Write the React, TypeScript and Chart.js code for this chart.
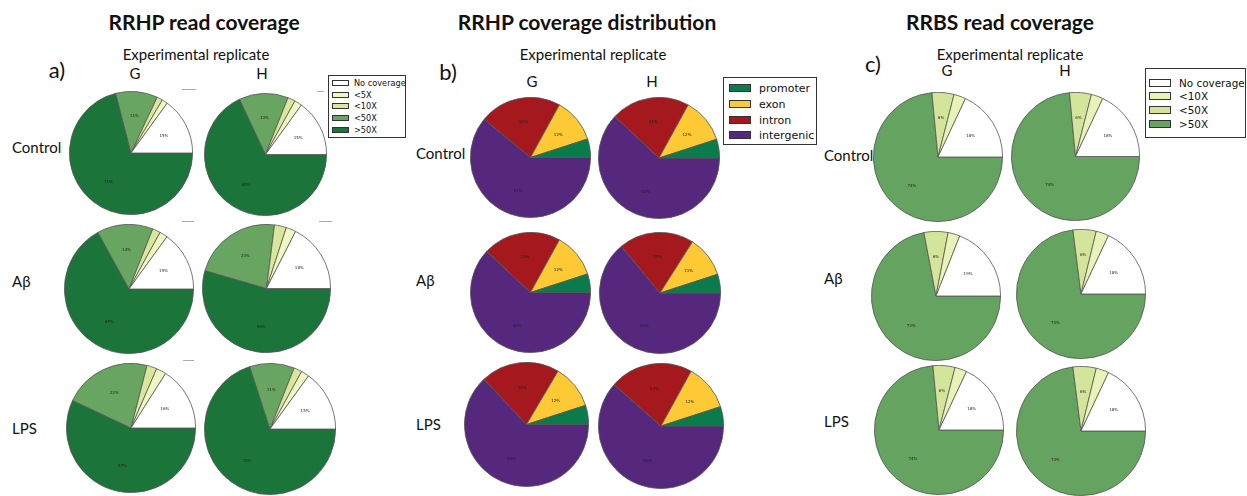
import React, { useEffect, useRef } from "react";
import { Chart, registerables } from "chart.js";

Chart.register(...registerables);

// ---------- categories ----------
const rrhpCoverageCats = ["No coverage", "<5X", "<10X", "<50X", ">50X"];
const distributionCats = ["promoter", "exon", "intron", "intergenic"];
const rrbsCoverageCats = ["No coverage", "<10X", "<50X", ">50X"];

const replicates = ["G", "H"];
const conditions = ["Control", "Aβ", "LPS"];

// ---------- values (percent) ----------
// a) RRHP read coverage: No coverage, <5X, <10X, <50X, >50X
const rrhpControlG = [15, 1.5, 1.5, 11, 71];
const rrhpControlH = [15, 2, 2, 13, 68];
const rrhpAbetaG = [15, 2, 2, 14, 67];
const rrhpAbetaH = [17.5, 2.5, 3, 22.5, 54.5];
const rrhpLpsG = [16, 2.5, 2.5, 22, 57];
const rrhpLpsH = [15, 2, 2, 11, 70];

// b) RRHP coverage distribution: promoter, exon, intron, intergenic
const distControlG = [5, 12, 22, 61];
const distControlH = [5, 12, 21, 62];
const distAbetaG = [5, 12, 21, 62];
const distAbetaH = [5, 11, 20, 64];
const distLpsG = [5, 11.5, 20.5, 63];
const distLpsH = [5, 12, 21.5, 61.5];

// c) RRBS read coverage: No coverage, <10X, <50X, >50X
const rrbsControlG = [18, 3, 5.5, 73.5];
const rrbsControlH = [18, 3, 5.5, 73.5];
const rrbsAbetaG = [19, 3, 6, 72];
const rrbsAbetaH = [18, 3.2, 5.8, 73];
const rrbsLpsG = [18, 3, 5.5, 73.5];
const rrbsLpsH = [18, 3.2, 5.8, 73];

// ---------- colours ----------
const rrhpColors = ["#ffffff", "#f1f7c3", "#d8e79c", "#67a561", "#1b743a"];
const distColors = ["#0b7b4b", "#fdca35", "#a5181d", "#55287e"];
const rrbsColors = ["#ffffff", "#e9f3b8", "#d4e49a", "#65a360"];

// ---------- layout (centre x, centre y, radius) ----------
type PieSpec = { values: number[]; colors: string[]; cx: number; cy: number; r: number };

const pies: PieSpec[] = [
  { values: rrhpControlG, colors: rrhpColors, cx: 131, cy: 153, r: 61 },
  { values: rrhpControlH, colors: rrhpColors, cx: 265.5, cy: 154.5, r: 60.5 },
  { values: rrhpAbetaG, colors: rrhpColors, cx: 129, cy: 288.5, r: 64 },
  { values: rrhpAbetaH, colors: rrhpColors, cx: 266.5, cy: 288.5, r: 63.5 },
  { values: rrhpLpsG, colors: rrhpColors, cx: 131, cy: 427.5, r: 64 },
  { values: rrhpLpsH, colors: rrhpColors, cx: 270, cy: 428.5, r: 65 },

  { values: distControlG, colors: distColors, cx: 530, cy: 157.5, r: 59.5 },
  { values: distControlH, colors: distColors, cx: 658.5, cy: 157.5, r: 60 },
  { values: distAbetaG, colors: distColors, cx: 530.5, cy: 292, r: 59.5 },
  { values: distAbetaH, colors: distColors, cx: 660, cy: 293, r: 60 },
  { values: distLpsG, colors: distColors, cx: 526, cy: 424.5, r: 61.5 },
  { values: distLpsH, colors: distColors, cx: 660.5, cy: 425.5, r: 62 },

  { values: rrbsControlG, colors: rrbsColors, cx: 937.5, cy: 156.5, r: 64 },
  { values: rrbsControlH, colors: rrbsColors, cx: 1075, cy: 156.5, r: 63.5 },
  { values: rrbsAbetaG, colors: rrbsColors, cx: 935.5, cy: 295.5, r: 64 },
  { values: rrbsAbetaH, colors: rrbsColors, cx: 1080.5, cy: 293.5, r: 64 },
  { values: rrbsLpsG, colors: rrbsColors, cx: 939, cy: 430, r: 64 },
  { values: rrbsLpsH, colors: rrbsColors, cx: 1081, cy: 430.5, r: 64 },
];

const pctPlugin = {
  id: "pctLabels",
  afterDatasetsDraw(chart: any) {
    const ctx = chart.ctx;
    const meta = chart.getDatasetMeta(0);
    const data = chart.data.datasets[0].data as number[];
    const total = data.reduce((a: number, b: number) => a + b, 0);
    ctx.save();
    ctx.font = '4px "DejaVu Sans"';
    ctx.fillStyle = "#222";
    ctx.textAlign = "center";
    ctx.textBaseline = "middle";
    meta.data.forEach((arc: any, i: number) => {
      const pct = (data[i] / total) * 100;
      if (pct < 5.5) return;
      const p = arc.getProps(["x", "y", "startAngle", "endAngle", "outerRadius"], true);
      const mid = (p.startAngle + p.endAngle) / 2;
      ctx.fillText(
        Math.round(pct) + "%",
        p.x + Math.cos(mid) * p.outerRadius * 0.6,
        p.y + Math.sin(mid) * p.outerRadius * 0.6
      );
    });
    ctx.restore();
  },
};

function Pie({ spec }: { spec: PieSpec }) {
  const ref = useRef<HTMLCanvasElement>(null);
  const size = Math.round(spec.r * 2 + 2);
  useEffect(() => {
    if (!ref.current) return;
    // matplotlib draws counter-clockwise from 3 o'clock; Chart.js draws clockwise,
    // so reverse the order and start at 3 o'clock.
    const vals = [...spec.values].reverse();
    const cols = [...spec.colors].reverse();
    const chart = new Chart(ref.current, {
      type: "pie",
      data: {
        labels: vals.map((_, i) => String(i)),
        datasets: [
          {
            data: vals,
            backgroundColor: cols,
            borderColor: "#555555",
            borderWidth: 0.8,
          },
        ],
      },
      options: {
        responsive: false,
        animation: false,
        rotation: 90,
        layout: { padding: 0 },
        plugins: { legend: { display: false }, tooltip: { enabled: false } },
        events: [],
      },
      plugins: [pctPlugin],
    });
    return () => chart.destroy();
  }, []);
  return (
    <canvas
      ref={ref}
      width={size}
      height={size}
      style={{
        position: "absolute",
        left: Math.round(spec.cx - size / 2),
        top: Math.round(spec.cy - size / 2),
        width: size,
        height: size,
      }}
    />
  );
}

const calibri = 'Lato, "Open Sans", sans-serif';

function Txt({
  x,
  y,
  text,
  size,
  bold,
  align = "center",
}: {
  x: number;
  y: number;
  text: string;
  size: number;
  bold?: boolean;
  align?: "center" | "left";
}) {
  return (
    <div
      style={{
        position: "absolute",
        left: x,
        top: y,
        transform: align === "center" ? "translate(-50%, -50%)" : "translate(0, -50%)",
        fontFamily: calibri,
        fontSize: size,
        fontWeight: bold ? 700 : 400,
        whiteSpace: "nowrap",
        color: "#111",
        lineHeight: 1,
      }}
    >
      {text}
    </div>
  );
}

function Legend({
  x,
  y,
  w,
  h,
  cats,
  colors,
  rowY,
  patchX,
  patchW,
  patchH,
  textX,
  fontSize,
}: {
  x: number;
  y: number;
  w: number;
  h: number;
  cats: string[];
  colors: string[];
  rowY: number[];
  patchX: number;
  patchW: number;
  patchH: number;
  textX: number;
  fontSize: number;
}) {
  return (
    <div
      style={{
        position: "absolute",
        left: x,
        top: y,
        width: w,
        height: h,
        border: "1px solid #333",
        boxSizing: "border-box",
        background: "#fff",
      }}
    >
      {cats.map((c, i) => (
        <React.Fragment key={c}>
          <div
            style={{
              position: "absolute",
              left: patchX,
              top: rowY[i] - patchH / 2,
              width: patchW,
              height: patchH,
              background: colors[i],
              border: "1px solid #333",
              boxSizing: "border-box",
            }}
          />
          <div
            style={{
              position: "absolute",
              left: textX,
              top: rowY[i],
              transform: "translateY(-50%)",
              fontFamily: '"DejaVu Sans", sans-serif',
              fontSize,
              lineHeight: 1,
              whiteSpace: "nowrap",
              color: "#111",
            }}
          >
            {c}
          </div>
        </React.Fragment>
      ))}
    </div>
  );
}

const ticks = [
  { x: 182, y: 89, w: 14 },
  { x: 317, y: 91, w: 7 },
  { x: 182, y: 221, w: 12 },
  { x: 319, y: 221, w: 13 },
  { x: 183, y: 360, w: 11 },
];

export default function App() {
  const panelCols = [
    { title: "RRHP read coverage", tx: 204, ex: 196, letter: "a)", lx: 57, ly: 70, gx: 135, hx: 262, gy: 73, rowX: 12, rowYs: [147, 281, 428] },
    { title: "RRHP coverage distribution", tx: 587, ex: 593, letter: "b)", lx: 448, ly: 72, gx: 532, hx: 652, gy: 81, rowX: 416, rowYs: [153, 280, 424] },
    { title: "RRBS read coverage", tx: 1000, ex: 1010, letter: "c)", lx: 873, ly: 64, gx: 947, hx: 1065, gy: 70, rowX: 824, rowYs: [155, 278, 421] },
  ];
  return (
    <div
      style={{
        position: "absolute",
        left: 0,
        top: 0,
        width: 1247,
        height: 496,
        overflow: "hidden",
        background: "#fff",
      }}
    >
      {panelCols.map((p) => (
        <React.Fragment key={p.title}>
          <Txt x={p.tx} y={21} text={p.title} size={21} bold />
          <Txt x={p.ex} y={54} text="Experimental replicate" size={15} />
          <Txt x={p.lx} y={p.ly} text={p.letter} size={22} />
          <Txt x={p.gx} y={p.gy} text={replicates[0]} size={15} />
          <Txt x={p.hx} y={p.gy} text={replicates[1]} size={15} />
          {conditions.map((c, i) => (
            <Txt key={c} x={p.rowX} y={p.rowYs[i]} text={c} size={15} align="left" />
          ))}
        </React.Fragment>
      ))}

      {pies.map((s, i) => (
        <Pie key={i} spec={s} />
      ))}

      {ticks.map((t, i) => (
        <div
          key={i}
          style={{ position: "absolute", left: t.x, top: t.y, width: t.w, height: 1, background: "#aaa" }}
        />
      ))}

      <Legend
        x={328}
        y={75}
        w={78}
        h={63}
        cats={rrhpCoverageCats}
        colors={rrhpColors}
        rowY={[7, 18.5, 30, 42, 54]}
        patchX={3}
        patchW={17}
        patchH={6}
        textX={25}
        fontSize={8.2}
      />
      <Legend
        x={723}
        y={77}
        w={94}
        h={68}
        cats={distributionCats}
        colors={distColors}
        rowY={[10, 26, 41.5, 57]}
        patchX={5}
        patchW={22}
        patchH={8}
        textX={35}
        fontSize={11}
      />
      <Legend
        x={1145}
        y={68}
        w={101}
        h={70}
        cats={rrbsCoverageCats}
        colors={rrbsColors}
        rowY={[13.5, 27, 40.5, 54.5]}
        patchX={3}
        patchW={22}
        patchH={8}
        textX={33}
        fontSize={10.4}
      />
    </div>
  );
}
